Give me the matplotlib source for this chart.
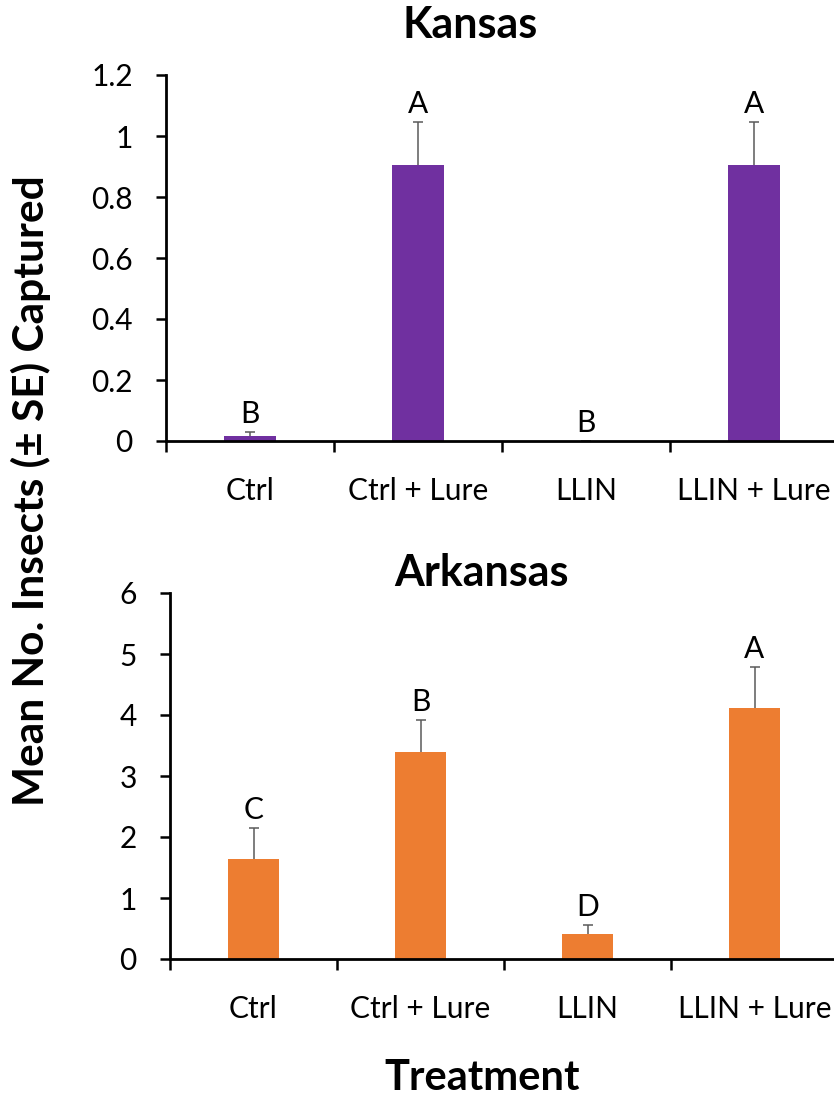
import matplotlib
matplotlib.use("Agg")
import matplotlib.pyplot as plt
from matplotlib.ticker import FixedLocator, NullFormatter

plt.rcParams["font.family"] = ["Lato", "DejaVu Sans"]

treatments = ["Ctrl", "Ctrl + Lure", "LLIN", "LLIN + Lure"]

kansas_mean = [0.015, 0.905, 0.0, 0.905]
kansas_se = [0.015, 0.14, 0.0, 0.14]
kansas_letters = ["B", "A", "B", "A"]

arkansas_mean = [1.64, 3.39, 0.415, 4.11]
arkansas_se = [0.51, 0.53, 0.145, 0.68]
arkansas_letters = ["C", "B", "D", "A"]

PURPLE = "#7030A0"
ORANGE = "#ED7D31"
W, H = 834, 1099


def panel(fig, rect, means, ses, letters, color, ymax, ystep):
    ax = fig.add_axes(rect)
    x = list(range(len(means)))
    ax.bar(x, means, width=0.31, color=color, zorder=2)
    # upper half of the SE bar only; hide the cap sitting on the bar top
    _, caps, _ = ax.errorbar(x, means, yerr=[[0] * len(ses), ses], fmt="none",
                             ecolor="#5a5a5a", elinewidth=1.1, capsize=3.5,
                             capthick=1.1, zorder=3)
    caps[0].set_visible(False)
    for xi, m, s, lab in zip(x, means, ses, letters):
        ax.annotate(lab, (xi, m + s), xytext=(0, 6.5), textcoords="offset points",
                    ha="center", va="baseline", fontsize=21.5)

    ax.set_xlim(-0.5, len(means) - 0.5)
    ax.set_ylim(0, ymax)
    n = int(round(ymax / ystep))
    ticks = [i * ystep for i in range(n + 1)]
    ax.set_yticks(ticks)
    ax.set_yticklabels([f"{t:g}" for t in ticks])

    # tick marks sit on category boundaries, names at category centres
    ax.xaxis.set_major_locator(FixedLocator([i - 0.5 for i in range(len(means) + 1)]))
    ax.xaxis.set_major_formatter(NullFormatter())
    ax.xaxis.set_minor_locator(FixedLocator(x))
    ax.set_xticklabels(treatments, minor=True)
    ax.tick_params(axis="x", which="major", length=8, width=1.8, direction="out")
    ax.tick_params(axis="x", which="minor", length=0, pad=26, labelsize=21.5)
    ax.tick_params(axis="y", length=7, width=1.8, direction="out", pad=17,
                   labelsize=21.5)

    for side in ("top", "right"):
        ax.spines[side].set_visible(False)
    for side in ("left", "bottom"):
        ax.spines[side].set_linewidth(2.0)
    ax.spines["bottom"].set_zorder(4)
    return ax


fig = plt.figure(figsize=(W / 100, H / 100), dpi=100)

panel(fig, [166 / W, 1 - 441 / H, 672 / W, 366 / H],
      kansas_mean, kansas_se, kansas_letters, PURPLE, 1.2, 0.2)
panel(fig, [170 / W, 1 - 959 / H, 668 / W, 366 / H],
      arkansas_mean, arkansas_se, arkansas_letters, ORANGE, 6, 1)

fig.text(470 / W, 1 - 25 / H, "Kansas", ha="center", va="center",
         fontsize=31, fontweight="bold")
fig.text(481 / W, 1 - 573 / H, "Arkansas", ha="center", va="center",
         fontsize=31, fontweight="bold")
fig.text(31 / W, 1 - 491 / H, "Mean No. Insects (± SE) Captured",
         rotation=90, ha="center", va="center", fontsize=30.5, fontweight="bold")
fig.text(482 / W, 1 - 1078 / H, "Treatment", ha="center", va="center",
         fontsize=30, fontweight="bold")

fig.savefig("out.png", dpi=100)
